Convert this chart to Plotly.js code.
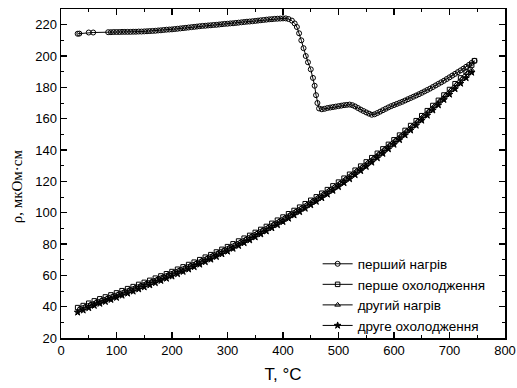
<!DOCTYPE html>
<html><head><meta charset="utf-8">
<script src="https://cdn.plot.ly/plotly-3.0.1.min.js"></script>
<style>html,body{margin:0;padding:0;background:#fff}#c{width:517px;height:388px}</style>
</head><body><div id="c"></div>
<script>
// перший нагрів (first heating)
const heat1T = [30,33,50,58,
  85,90,95,100,105,110,115,120,125,130,135,140,145,150,155,160,165,170,175,180,185,190,195,200,205,210,215,220,225,230,235,240,245,250,255,260,265,270,275,280,285,290,295,300,305,310,315,320,325,330,335,340,345,350,355,360,365,370,375,380,385,390,395,400,405,410,416,
  421,425,429,433,437,441,445,450,454,457,459.5,462,465,
  470,475,480,485,490,495,500,505,510,515,520,525,530,535,540,545,550,555,560,565,570,575,580,585,590,595,600,605,610,615,620,625,630,635,640,645,650,655,660,665,670,675,680,685,690,695,700,705,710,715,720,725,730,735,740,745];
const heat1R = [214.2,214.3,215.0,215.0,
  215.2,215.2,215.3,215.3,215.3,215.4,215.4,215.4,215.4,215.5,215.5,215.6,215.6,215.7,215.8,215.9,216.0,216.1,216.3,216.4,216.6,216.8,216.9,217.0,217.2,217.4,217.6,217.8,218.0,218.2,218.4,218.6,218.8,219.0,219.2,219.3,219.5,219.6,219.8,219.9,220.1,220.3,220.5,220.6,220.8,220.9,221.1,221.3,221.5,221.7,221.9,222.0,222.2,222.4,222.6,222.8,223.0,223.2,223.4,223.5,223.7,223.8,223.9,224.0,224.0,223.6,222.6,
  220.8,218.5,214.5,210,205,200,196,191.5,186,181,175,170,166.5,
  166.0,166.3,166.8,167.1,167.4,167.7,168.0,168.3,168.6,168.8,169.0,168.6,167.8,166.8,165.8,164.9,164.0,163.2,162.5,162.8,163.6,164.5,165.4,166.3,167.2,168.0,168.7,169.4,170.1,170.8,171.6,172.4,173.2,174.0,174.8,175.6,176.5,177.4,178.3,179.2,180.2,181.2,182.2,183.2,184.2,185.3,186.4,187.5,188.6,189.7,190.8,191.9,193.1,194.3,195.6,196.9];

// перше охолодження (first cooling)
const cool1T = [30,40,50,60,70,80,90,100,110,120,130,140,150,160,170,180,190,200,210,220,230,240,250,260,270,280,290,300,310,320,330,340,350,360,370,380,390,400,410,420,430,440,450,460,470,480,490,500,510,520,530,540,550,560,570,580,590,600,610,620,630,640,650,660,670,680,690,700,710,720,730,740,745];
const cool1R = [39.4,40.7,42.2,43.7,45.0,46.2,47.5,48.8,50.2,51.5,52.8,54.2,55.5,56.8,58.2,59.6,61.0,62.4,63.9,65.4,66.9,68.4,70.0,71.6,73.2,74.9,76.6,78.3,80.1,81.9,83.7,85.5,87.4,89.3,91.2,93.2,95.2,97.2,99.3,101.4,103.5,105.7,107.9,110.1,112.4,114.7,117.1,119.5,122.0,124.5,127.1,129.7,132.4,135.1,137.9,140.7,143.6,146.5,149.5,152.5,155.6,158.7,161.9,165.1,168.4,171.7,175.1,178.6,182.3,186.0,189.8,194.2,197.0];

// другий нагрів (second heating)
const heat2T = [33,43,53,63,73,83,93,103,113,123,133,143,153,163,173,183,193,203,213,223,233,243,253,263,273,283,293,303,313,323,333,343,353,363,373,383,393,403,413,423,433,443,453,463,473,483,493,503,513,523,533,543,553,563,573,583,593,603,613,623,633,643,653,663,673,683,693,703,713,723,733,740];
const heat2R = [38.5,39.9,41.4,42.9,44.2,45.4,46.7,48.0,49.4,50.7,52.0,53.4,54.7,56.0,57.4,58.8,60.2,61.7,63.2,64.7,66.2,67.7,69.3,70.9,72.5,74.2,75.9,77.6,79.4,81.2,83.0,84.9,86.8,88.7,90.6,92.6,94.6,96.6,98.7,100.8,103.0,105.2,107.4,109.6,111.9,114.2,116.6,119.0,121.5,124.0,126.7,129.3,132.0,134.8,137.6,140.4,143.3,146.2,149.2,152.2,155.3,158.5,161.7,164.9,168.2,171.5,175.0,178.4,181.9,185.4,188.9,191.0];

// друге охолодження (second cooling)
const cool2T = [30,40,50,60,70,80,90,100,110,120,130,140,150,160,170,180,190,200,210,220,230,240,250,260,270,280,290,300,310,320,330,340,350,360,370,380,390,400,410,420,430,440,450,460,470,480,490,500,510,520,530,540,550,560,570,580,590,600,610,620,630,640,650,660,670,680,690,700,710,720,730,740];
const cool2R = [36.4,37.7,39.2,40.7,42.0,43.2,44.5,45.8,47.2,48.5,49.8,51.2,52.5,53.8,55.2,56.6,58.0,59.4,60.9,62.4,63.9,65.4,67.0,68.6,70.2,71.9,73.6,75.3,77.1,78.9,80.7,82.5,84.4,86.3,88.2,90.2,92.2,94.2,96.3,98.4,100.5,102.7,104.9,107.1,109.4,111.7,114.1,116.5,119.0,121.5,124.1,126.7,129.4,132.1,134.9,137.7,140.6,143.5,146.5,149.5,152.6,155.7,158.9,162.1,165.4,168.7,172.1,175.5,179.0,182.5,186.0,189.5];

const names = ['перший нагрів','перше охолодження','другий нагрів','друге охолодження'];
const xTicks = [0,100,200,300,400,500,600,700,800];
const yTicks = [20,40,60,80,100,120,140,160,180,200,220];

function tr(x, y, name, symbol, size) {
  return {x: x, y: y, name: name, type: 'scatter', mode: 'lines+markers',
    line: {color: '#000', width: 1},
    marker: {symbol: symbol, size: size, color: '#000', line: {color: '#000', width: 1}}};
}
const data = [
  tr(heat1T, heat1R, names[0], 'circle-open', 5),
  tr(cool1T, cool1R, names[1], 'square-open', 4.5),
  tr(heat2T, heat2R, names[2], 'triangle-up-open', 5),
  tr(cool2T, cool2R, names[3], 'star', 5)
];
const axisCommon = {showgrid: false, zeroline: false, showline: true, linecolor: '#000', linewidth: 1.5,
  mirror: 'allticks', ticks: 'inside', ticklen: 6, tickwidth: 1.2, tickcolor: '#000',
  tickfont: {family: 'Liberation Sans, Arial, sans-serif', size: 13, color: '#000'}};
const layout = {
  width: 517, height: 388,
  margin: {l: 61, r: 12, t: 9, b: 50},
  paper_bgcolor: '#fff', plot_bgcolor: '#fff',
  showlegend: true,
  legend: {x: 0.578, y: 0.272, xanchor: 'left', yanchor: 'top', bgcolor: 'rgba(0,0,0,0)',
    font: {family: 'Liberation Sans, Arial, sans-serif', size: 13.5, color: '#000'}, itemwidth: 30, tracegroupgap: 0},
  xaxis: Object.assign({}, axisCommon, {range: [0, 800], tickvals: xTicks, ticktext: xTicks.map(String),
    minor: {ticks: 'inside', ticklen: 3, dtick: 50, tickcolor: '#000', tickwidth: 1},
    title: {text: 'T, °C', font: {family: 'Liberation Sans, Arial, sans-serif', size: 17, color: '#000'}, standoff: 11}}),
  yaxis: Object.assign({}, axisCommon, {range: [20, 230], tickvals: yTicks, ticktext: yTicks.map(String),
    minor: {ticks: 'inside', ticklen: 3, dtick: 10, tickcolor: '#000', tickwidth: 1},
    title: {text: ''}}),
  annotations: [{text: 'ρ, мкОм·см', xref: 'paper', yref: 'paper', x: -0.1, y: 0.46, textangle: -90,
    showarrow: false, xanchor: 'center', yanchor: 'middle',
    font: {family: 'Liberation Serif, Times New Roman, serif', size: 15, color: '#000'}}]
};
Plotly.newPlot('c', data, layout, {displayModeBar: false, staticPlot: true});
</script></body></html>
